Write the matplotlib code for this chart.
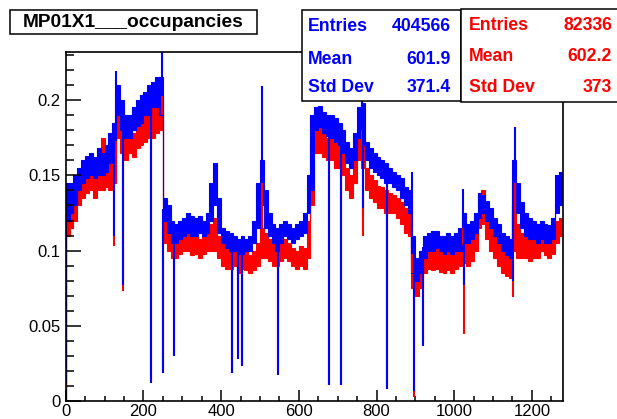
import numpy as np
import matplotlib
matplotlib.use("Agg")
import matplotlib.pyplot as plt
from matplotlib.patches import Rectangle

plt.rcParams['font.family'] = ['Liberation Sans', 'DejaVu Sans']

# channel blocks of 10 channels, 0..1280
edges = np.arange(0, 1290, 10)

# blue histogram band (low / high of the noisy band in each 10-channel block)
blue_lo = [0.12, 0.125, 0.13, 0.14, 0.145, 0.148, 0.15, 0.148, 0.15, 0.15,
           0.152, 0.158, 0.16, 0.19, 0.18, 0.175, 0.175, 0.18, 0.183, 0.185,
           0.19, 0.19, 0.195, 0.195, 0.19, 0.12, 0.112, 0.105, 0.105, 0.108,
           0.11, 0.112, 0.11, 0.11, 0.112, 0.11, 0.112, 0.12, 0.13, 0.112,
           0.105, 0.102, 0.1, 0.1, 0.098, 0.098, 0.1, 0.1, 0.105, 0.115,
           0.13, 0.115, 0.11, 0.105, 0.1, 0.105, 0.11, 0.108, 0.105, 0.108,
           0.11, 0.112, 0.125, 0.14, 0.18, 0.182, 0.178, 0.176, 0.175, 0.172,
           0.17, 0.165, 0.158, 0.155, 0.16, 0.175, 0.17, 0.16, 0.155, 0.152,
           0.15, 0.148, 0.145, 0.145, 0.142, 0.14, 0.135, 0.13, 0.125, 0.085,
           0.08, 0.085, 0.095, 0.1, 0.1, 0.102, 0.1, 0.098, 0.1, 0.098,
           0.1, 0.1, 0.105, 0.105, 0.108, 0.112, 0.122, 0.125, 0.12, 0.115,
           0.11, 0.105, 0.1, 0.097, 0.095, 0.13, 0.125, 0.115, 0.11, 0.108,
           0.108, 0.105, 0.108, 0.105, 0.105, 0.108, 0.125, 0.13]
blue_hi = [0.145, 0.145, 0.15, 0.155, 0.16, 0.163, 0.165, 0.162, 0.168, 0.165,
           0.17, 0.178, 0.185, 0.21, 0.2, 0.19, 0.19, 0.195, 0.2, 0.203,
           0.205, 0.21, 0.212, 0.215, 0.215, 0.135, 0.13, 0.12, 0.118, 0.12,
           0.122, 0.125, 0.123, 0.122, 0.123, 0.12, 0.125, 0.145, 0.158, 0.135,
           0.115, 0.113, 0.112, 0.11, 0.108, 0.11, 0.108, 0.11, 0.12, 0.145,
           0.16, 0.14, 0.125, 0.118, 0.115, 0.118, 0.12, 0.118, 0.115, 0.118,
           0.12, 0.125, 0.15, 0.19, 0.195, 0.196, 0.192, 0.19, 0.19, 0.188,
           0.185, 0.18, 0.172, 0.168, 0.178, 0.195, 0.198, 0.172, 0.168, 0.165,
           0.162, 0.16, 0.158, 0.155, 0.152, 0.15, 0.148, 0.142, 0.14, 0.11,
           0.095, 0.1, 0.11, 0.112, 0.113, 0.113, 0.11, 0.11, 0.112, 0.11,
           0.112, 0.115, 0.125, 0.118, 0.12, 0.125, 0.138, 0.137, 0.133, 0.128,
           0.122, 0.118, 0.112, 0.11, 0.108, 0.16, 0.145, 0.132, 0.125, 0.122,
           0.12, 0.118, 0.12, 0.118, 0.117, 0.122, 0.15, 0.152]

# red histogram band
red_lo = [0.11, 0.115, 0.12, 0.13, 0.135, 0.138, 0.14, 0.135, 0.14, 0.14,
          0.142, 0.14, 0.145, 0.175, 0.165, 0.16, 0.165, 0.162, 0.168, 0.17,
          0.172, 0.175, 0.175, 0.178, 0.18, 0.105, 0.1, 0.095, 0.095, 0.098,
          0.1, 0.1, 0.097, 0.098, 0.095, 0.098, 0.1, 0.1, 0.1, 0.095,
          0.09, 0.088, 0.088, 0.09, 0.085, 0.088, 0.087, 0.085, 0.087, 0.09,
          0.095, 0.095, 0.093, 0.09, 0.09, 0.093, 0.095, 0.093, 0.09, 0.088,
          0.09, 0.088, 0.095, 0.13, 0.165, 0.165, 0.162, 0.16, 0.16, 0.155,
          0.155, 0.15, 0.14, 0.135, 0.145, 0.16, 0.155, 0.14, 0.135, 0.132,
          0.128, 0.128, 0.125, 0.125, 0.125, 0.122, 0.118, 0.112, 0.11, 0.075,
          0.07, 0.075, 0.085, 0.088, 0.087, 0.088, 0.086, 0.085, 0.087, 0.085,
          0.088, 0.09, 0.092, 0.09, 0.093, 0.1, 0.115, 0.118, 0.108, 0.1,
          0.095, 0.09, 0.085, 0.083, 0.082, 0.1, 0.095, 0.095, 0.095, 0.093,
          0.095, 0.095, 0.1, 0.097, 0.095, 0.098, 0.105, 0.11]
red_hi = [0.13, 0.13, 0.135, 0.145, 0.15, 0.152, 0.155, 0.15, 0.155, 0.175,
          0.158, 0.16, 0.165, 0.195, 0.185, 0.178, 0.18, 0.178, 0.185, 0.188,
          0.19, 0.195, 0.198, 0.2, 0.2, 0.125, 0.115, 0.11, 0.108, 0.11,
          0.112, 0.113, 0.11, 0.11, 0.108, 0.11, 0.112, 0.118, 0.122, 0.11,
          0.105, 0.102, 0.1, 0.102, 0.098, 0.1, 0.1, 0.097, 0.1, 0.105,
          0.115, 0.112, 0.108, 0.105, 0.103, 0.107, 0.108, 0.105, 0.102, 0.1,
          0.103, 0.102, 0.12, 0.17, 0.18, 0.182, 0.178, 0.175, 0.176, 0.172,
          0.17, 0.165, 0.155, 0.15, 0.162, 0.178, 0.175, 0.155, 0.15, 0.147,
          0.143, 0.142, 0.14, 0.138, 0.137, 0.135, 0.132, 0.128, 0.125, 0.095,
          0.085, 0.09, 0.1, 0.102, 0.1, 0.102, 0.1, 0.098, 0.1, 0.098,
          0.1, 0.105, 0.115, 0.108, 0.11, 0.12, 0.138, 0.14, 0.125, 0.115,
          0.11, 0.105, 0.1, 0.097, 0.095, 0.125, 0.118, 0.112, 0.113, 0.11,
          0.112, 0.11, 0.115, 0.112, 0.108, 0.112, 0.12, 0.122]

# single-channel spikes: channel, blue value, red value
spike_ch = [0, 125, 129, 148, 219, 247, 251, 279, 427, 444, 453, 504, 547,
            676, 709, 762, 766, 826, 890, 895, 920, 1023, 1025, 1150, 1155]
spike_blue = [0.012, 0.11, 0.219, 0.077, 0.012, 0.235, 0.019, 0.03, 0.019,
              0.028, 0.0235, 0.209, 0.0175, 0.011, 0.011, 0.2, 0.128, 0.008,
              0.152, 0.007, 0.037, 0.141, 0.077, 0.08, 0.182]
spike_red = [0.008, 0.103, 0.205, 0.073, 0.012, 0.21, 0.019, 0.03, 0.019,
             0.028, 0.0235, 0.16, 0.0175, 0.011, 0.011, 0.18, 0.11, 0.008,
             0.13, 0.003, 0.04, 0.12, 0.045, 0.069, 0.15]

title = "MP01X1___occupancies"
blue_stats = [("Entries", "404566"), ("Mean", "601.9"), ("Std Dev", "371.4")]
red_stats = [("Entries", "82336"), ("Mean", "602.2"), ("Std Dev", "373")]

W, H = 617, 419
fig = plt.figure(figsize=(W / 100, H / 100), dpi=100)
ax = fig.add_axes([65.7 / W, (H - 401.4) / H, (563 - 65.7) / W, (401.4 - 51.7) / H])


def draw_hist(lo, hi, spv, color):
    lo = np.array(lo)
    hi = np.array(hi)
    ax.stairs(hi, edges, baseline=lo, fill=True, color=color, lw=0)
    ax.stairs(hi, edges, color=color, lw=0.8)
    ax.stairs(lo, edges, color=color, lw=0.8)
    ch = np.array(spike_ch)
    mid = (lo[ch // 10] + hi[ch // 10]) / 2
    ax.vlines(ch + 0.5, mid, spv, color=color, lw=1.5)


draw_hist(red_lo, red_hi, spike_red, '#ff0000')
draw_hist(blue_lo, blue_hi, spike_blue, '#0000ff')

ax.set_xlim(0, 1280)
ax.set_ylim(0, 0.232)
ax.set_xticks([0, 200, 400, 600, 800, 1000, 1200])
ax.set_xticks(np.arange(0, 1281, 50), minor=True)
ax.set_yticks([0, 0.05, 0.1, 0.15, 0.2])
ax.set_yticklabels(['0', '0.05', '0.1', '0.15', '0.2'])
ax.set_yticks(np.arange(0, 0.231, 0.01), minor=True)
ax.tick_params(axis='y', which='major', direction='in', length=10.8, width=1.1,
               labelsize=12, pad=4)
ax.tick_params(axis='y', which='minor', direction='in', length=5.4, width=1.1)
ax.tick_params(axis='x', which='major', direction='in', length=7.6, width=1.1,
               labelsize=12, pad=2)
ax.tick_params(axis='x', which='minor', direction='in', length=3.8, width=1.1)
for s in ax.spines.values():
    s.set_linewidth(1.2)

# title box
fig.patches.append(Rectangle((9.5 / W, 1 - 34.5 / H), 247 / W, 24.5 / H,
                             transform=fig.transFigure, fill=True, fc='white',
                             ec='black', lw=1.1))
fig.text(133 / W, 1 - 22.5 / H, title, ha='center', va='center',
         fontsize=13.8, fontweight='bold')

# stats boxes
fig.patches.append(Rectangle((302 / W, 1 - 101 / H), 159 / W, 90.5 / H,
                             transform=fig.transFigure, fc='white', ec='black',
                             lw=1.1, zorder=5))
fig.patches.append(Rectangle((461 / W, 1 - 101.7 / H), 170 / W, 92.4 / H,
                             transform=fig.transFigure, fc='white', ec='black',
                             lw=1.1, zorder=5, clip_on=False))
for (name, val), yy in zip(blue_stats, [26.7, 59, 88]):
    fig.text(308 / W, 1 - yy / H, name, color='#0000ff', fontsize=12.7,
             fontweight='bold', va='center', ha='left', zorder=6)
    fig.text(451 / W, 1 - yy / H, val, color='#0000ff', fontsize=12.7,
             fontweight='bold', va='center', ha='right', zorder=6)
for (name, val), yy in zip(red_stats, [25, 56.7, 87.3]):
    fig.text(469 / W, 1 - yy / H, name, color='#ff0000', fontsize=12.7,
             fontweight='bold', va='center', ha='left', zorder=6)
    fig.text(612 / W, 1 - yy / H, val, color='#ff0000', fontsize=12.7,
             fontweight='bold', va='center', ha='right', zorder=6)

fig.savefig('out.png', dpi=100)
